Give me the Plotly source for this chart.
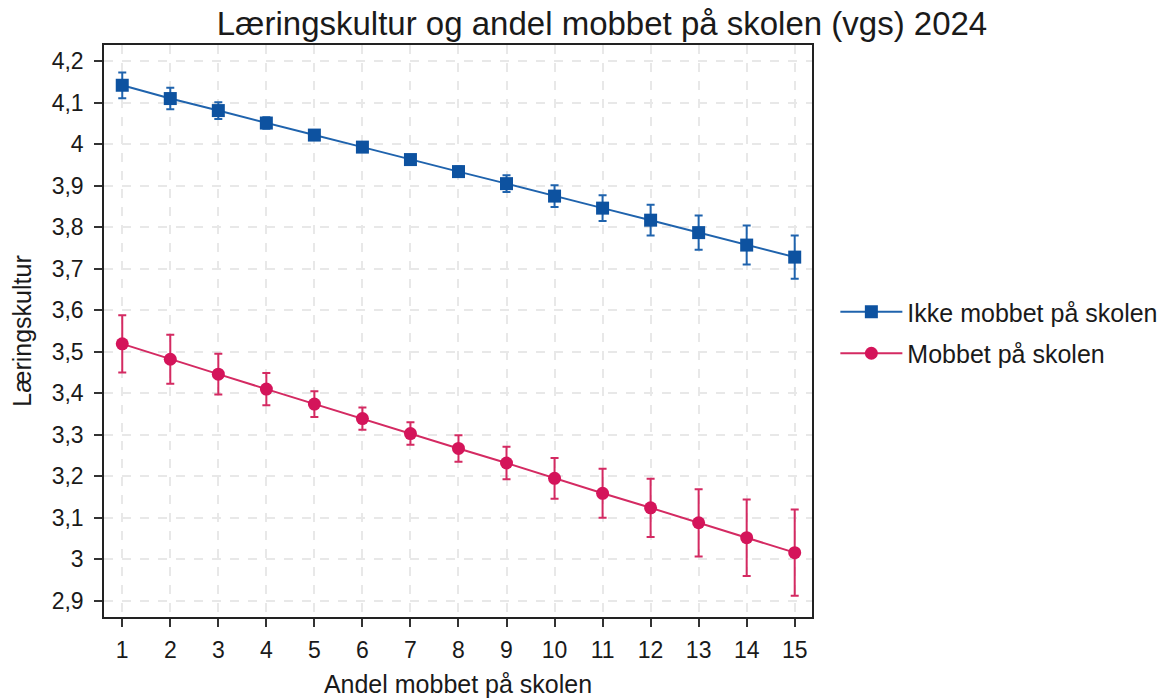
import plotly.graph_objects as go

x_vals = list(range(1, 16))
ikke_mobbet = [4.142, 4.110, 4.081, 4.051, 4.022, 3.993, 3.963, 3.934, 3.905, 3.875, 3.846, 3.817, 3.787, 3.757, 3.728]
ikke_err = [0.031, 0.026, 0.020, 0.014, 0.010, 0.008, 0.008, 0.012, 0.020, 0.026, 0.031, 0.037, 0.041, 0.047, 0.052]
mobbet = [3.519, 3.482, 3.446, 3.410, 3.374, 3.339, 3.303, 3.267, 3.232, 3.195, 3.159, 3.124, 3.088, 3.052, 3.016]
mobbet_err = [0.069, 0.059, 0.049, 0.039, 0.031, 0.027, 0.027, 0.032, 0.039, 0.049, 0.059, 0.070, 0.081, 0.092, 0.104]

y_tickvals = [2.9, 3.0, 3.1, 3.2, 3.3, 3.4, 3.5, 3.6, 3.7, 3.8, 3.9, 4.0, 4.1, 4.2]
y_ticktext = ["2,9", "3", "3,1", "3,2", "3,3", "3,4", "3,5", "3,6", "3,7", "3,8", "3,9", "4", "4,1", "4,2"]

title_text = "Læringskultur og andel mobbet på skolen (vgs) 2024"
x_title = "Andel mobbet på skolen"
y_title = "Læringskultur"
names = ["Ikke mobbet på skolen", "Mobbet på skolen"]

blue = "#0d52a0"
blue_line = "#1f63ad"
pink = "#d4145a"
pink_line = "#d42a62"

fig = go.Figure()
fig.add_trace(go.Scatter(
    x=x_vals, y=ikke_mobbet, name=names[0], mode="lines+markers", legendgroup="a",
    line=dict(color=blue_line, width=2),
    marker=dict(symbol="square", size=13, color=blue),
    error_y=dict(type="data", array=ikke_err, visible=True, color=blue_line, thickness=2, width=4),
))
fig.add_trace(go.Scatter(
    x=x_vals, y=mobbet, name=names[1], mode="lines+markers", legendgroup="b",
    line=dict(color=pink_line, width=2),
    marker=dict(symbol="circle", size=13, color=pink),
    error_y=dict(type="data", array=mobbet_err, visible=True, color=pink_line, thickness=2, width=4),
))

font_family = "Liberation Sans, Arial, sans-serif"
W, H = 1171, 698
fig.update_layout(
    width=W, height=H,
    margin=dict(l=104, r=359, t=45, b=81, autoexpand=False),
    paper_bgcolor="white", plot_bgcolor="white",
    font=dict(family=font_family, size=23, color="#1a1a1a"),
    title=dict(text=title_text, x=602 / W, xref="container", xanchor="center",
               y=1 - 23 / H, yref="container", yanchor="middle",
               font=dict(size=33, color="#1a1a1a")),
    legend=dict(x=1.033, y=1 - (332.5 - 45) / 572, xanchor="left", yanchor="middle",
                font=dict(size=25), itemwidth=62, tracegroupgap=6,
                bgcolor="rgba(0,0,0,0)"),
    xaxis=dict(
        title=dict(text=x_title, font=dict(size=25), standoff=15),
        automargin=False,
        range=[0.62, 15.36], tickvals=x_vals, ticktext=[str(v) for v in x_vals],
        showline=True, linecolor="#222", linewidth=1.5, mirror=True,
        ticks="outside", ticklen=8, tickcolor="#333", tickwidth=1.5,
        ticklabelstandoff=4,
        showgrid=True, gridcolor="#e8e8e8", griddash="dash", gridwidth=1.5,
        zeroline=False,
    ),
    yaxis=dict(
        title=dict(text=y_title, font=dict(size=25), standoff=13),
        automargin=False,
        range=[2.861, 4.239], tickvals=y_tickvals, ticktext=y_ticktext,
        showline=True, linecolor="#222", linewidth=1.5, mirror=True,
        ticks="outside", ticklen=8, tickcolor="#333", tickwidth=1.5,
        ticklabelstandoff=6,
        showgrid=True, gridcolor="#e8e8e8", griddash="dash", gridwidth=1.5,
        zeroline=False,
    ),
)

fig.write_html("out.html", config={"displayModeBar": False},
               post_script="document.body.style.margin='0';")
